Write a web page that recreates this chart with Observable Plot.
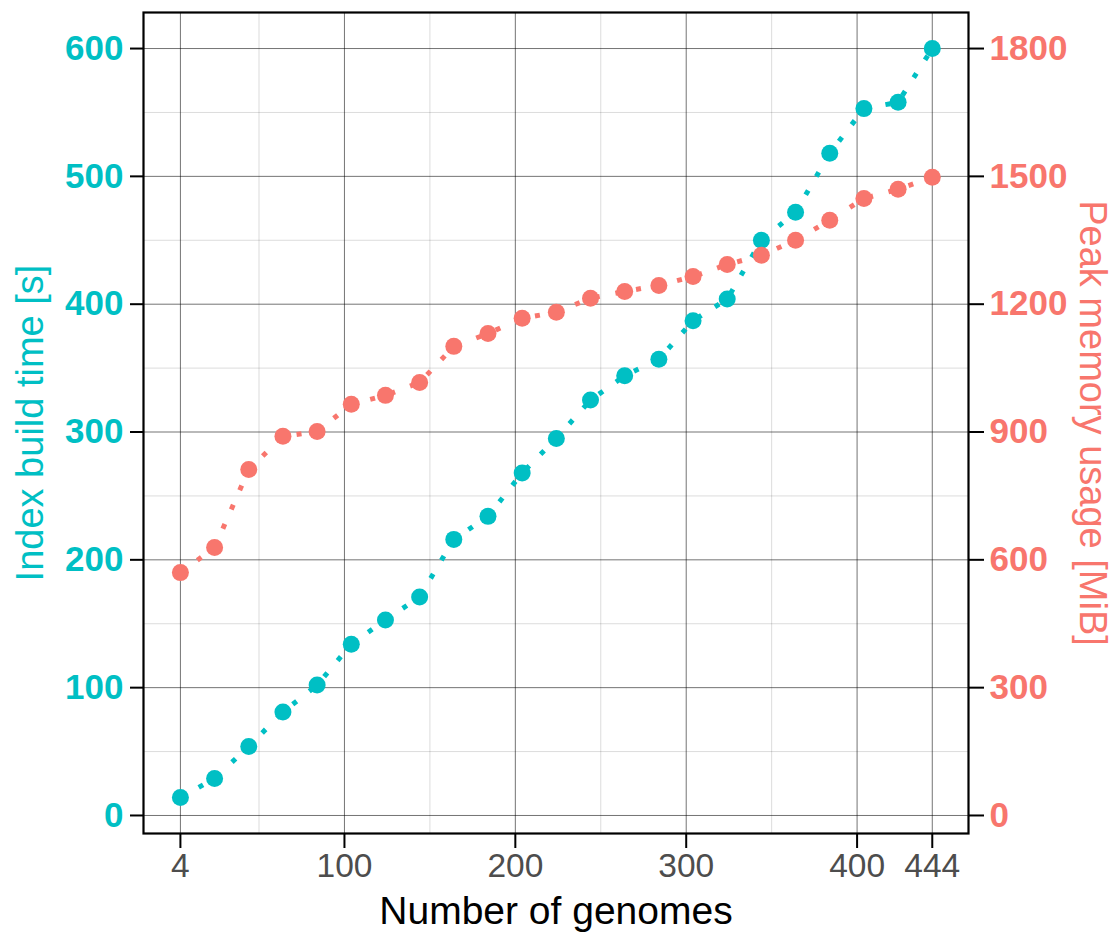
<!DOCTYPE html>
<html>
<head>
<meta charset="utf-8">
<script src="https://cdn.jsdelivr.net/npm/d3@7"></script>
<script src="https://cdn.jsdelivr.net/npm/@observablehq/plot@0.6"></script>
<style>
  html, body { margin: 0; padding: 0; background: #ffffff; }
  #chart { width: 1117px; height: 934px; overflow: hidden; }
</style>
</head>
<body>
<div id="chart"></div>
<script>
// ---- data ----
const genomes = [4, 24, 44, 64, 84, 104, 124, 144, 164, 184, 204, 224, 244, 264, 284, 304, 324, 344, 364, 384, 404, 424, 444];
const buildTime = [14, 29, 54, 81, 102, 134, 153, 171, 216, 234, 268, 295, 325, 344, 357, 387, 404, 450, 472, 518, 553, 558, 600];
const peakMemory = [570, 629, 812, 890, 901, 965, 986, 1016, 1101, 1131, 1167, 1181, 1214, 1230, 1244, 1265, 1293, 1315, 1350, 1397, 1448, 1470, 1498];

const xTicks = [4, 100, 200, 300, 400, 444];
const xMinor = [50, 150, 250, 350];
const timeTicks = [0, 100, 200, 300, 400, 500, 600];
const timeMinor = [50, 150, 250, 350, 450, 550];
const memTicks = [0, 300, 600, 900, 1200, 1500, 1800];
const memPerTimeUnit = 3; // right axis = 3 × left axis

const xLabel = "Number of genomes";
const yLeftLabel = "Index build time [s]";
const yRightLabel = "Peak memory usage [MiB]";

const cyan = "#00BFC4";
const salmon = "#F8766D";

const rows = genomes.map((g, i) => ({ genomes: g, time: buildTime[i], mem: peakMemory[i] }));

const chart = Plot.plot({
  width: 1117,
  height: 934,
  marginLeft: 143,
  marginRight: 149,
  marginTop: 12,
  marginBottom: 101,
  style: { fontFamily: "'Liberation Sans', Arial, sans-serif", background: "#ffffff", overflow: "visible" },
  x: { domain: [-17.6, 465.2] },
  y: { domain: [-14.1, 628.2] },
  marks: [
    // grid
    Plot.gridX(xMinor, { stroke: "#000", strokeOpacity: 0.14, strokeWidth: 1 }),
    Plot.gridY(timeMinor, { stroke: "#000", strokeOpacity: 0.14, strokeWidth: 1 }),
    Plot.gridX(xTicks, { stroke: "#000", strokeOpacity: 0.55, strokeWidth: 1 }),
    Plot.gridY(timeTicks, { stroke: "#000", strokeOpacity: 0.55, strokeWidth: 1 }),

    // axes
    Plot.axisX(xTicks, {
      anchor: "bottom", tickSize: 15, tickPadding: 5, stroke: "#000", strokeWidth: 2,
      fill: "#4d4d4d", fontSize: 33.5, label: null
    }),
    Plot.axisY(timeTicks, {
      anchor: "left", tickSize: 13, tickPadding: 7, stroke: "#000", strokeWidth: 2,
      fill: cyan, fontSize: 35, fontWeight: "bold", label: null
    }),
    Plot.axisY(memTicks.map(m => m / memPerTimeUnit), {
      anchor: "right", tickSize: 15, tickPadding: 6, stroke: "#000", strokeWidth: 2,
      fill: salmon, fontSize: 35, fontWeight: "bold", label: null,
      tickFormat: d => String(Math.round(d * memPerTimeUnit))
    }),

    // build time series
    Plot.line(rows, { x: "genomes", y: "time", stroke: cyan, strokeWidth: 5, strokeDasharray: "5,16", strokeLinecap: "butt" }),
    Plot.dot(rows, { x: "genomes", y: "time", r: 8.5, fill: cyan, stroke: "none" }),

    // memory series (on right axis)
    Plot.line(rows, { x: "genomes", y: d => d.mem / memPerTimeUnit, stroke: salmon, strokeWidth: 5, strokeDasharray: "5,16", strokeLinecap: "butt" }),
    Plot.dot(rows, { x: "genomes", y: d => d.mem / memPerTimeUnit, r: 8.5, fill: salmon, stroke: "none" }),

    // axis titles
    Plot.text([yLeftLabel], {
      text: d => d, frameAnchor: "left", dx: -113, rotate: -90,
      textAnchor: "middle", lineAnchor: "middle", fill: cyan, fontSize: 38
    }),
    Plot.text([yRightLabel], {
      text: d => d, frameAnchor: "right", dx: 124, rotate: 90,
      textAnchor: "middle", lineAnchor: "middle", fill: salmon, fontSize: 38
    }),
    Plot.text([xLabel], {
      text: d => d, frameAnchor: "bottom", dy: 78,
      textAnchor: "middle", lineAnchor: "middle", fill: "#000", fontSize: 39
    }),

    Plot.frame({ stroke: "#000", strokeWidth: 2.2 })
  ]
});

document.getElementById("chart").appendChild(chart);
</script>
</body>
</html>
